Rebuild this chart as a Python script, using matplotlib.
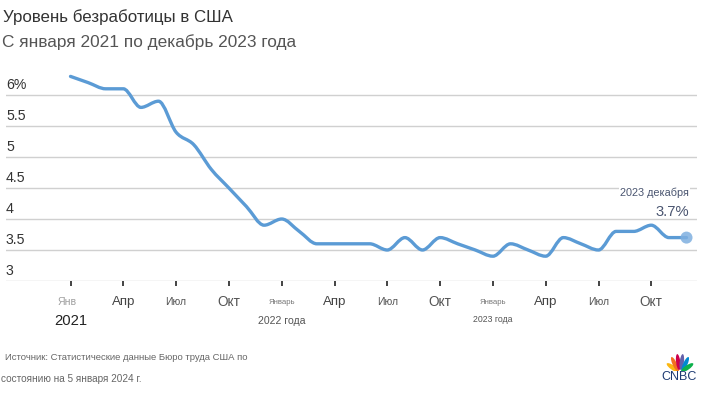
import numpy as np
import matplotlib
matplotlib.use("Agg")
import matplotlib.pyplot as plt
from matplotlib.path import Path
from matplotlib.patches import PathPatch, Ellipse

# ---------------- data ----------------
months = list(range(36))  # Jan 2021 .. Dec 2023
rate = [6.3, 6.2, 6.1, 6.1, 5.8, 5.9, 5.4, 5.2, 4.8, 4.5, 4.2, 3.9,
        4.0, 3.8, 3.6, 3.6, 3.6, 3.6, 3.5, 3.7, 3.5, 3.7, 3.6, 3.5,
        3.4, 3.6, 3.5, 3.4, 3.7, 3.6, 3.5, 3.8, 3.8, 3.9, 3.7, 3.7]
y_ticks = [3, 3.5, 4, 4.5, 5, 5.5, 6]
y_labels = ["3", "3.5", "4", "4.5", "5", "5.5", "6%"]
x_ticks = [0, 3, 6, 9, 12, 15, 18, 21, 24, 27, 30, 33]
x_labels = ["Янв", "Апр", "Июл", "Окт", "Январь", "Апр", "Июл", "Окт",
            "Январь", "Апр", "Июл", "Окт"]
year_pos = [0, 12, 24]
year_labels = ["2021", "2022 года", "2023 года"]
title = "Уровень безработицы в США"
subtitle = "С января 2021 по декабрь 2023 года"
source1 = "Источник: Статистические данные Бюро труда США по"
source2 = "состоянию на 5 января 2024 г."
last_label = "2023 декабря"
last_value = "3.7%"

W, H = 706, 394
fig = plt.figure(figsize=(W / 100, H / 100), dpi=100)
plt.rcParams['font.family'] = ['Liberation Sans', 'DejaVu Sans']

def fx(px):
    return px / W

def fy(py):
    return 1 - py / H

# axes geometry in pixels
ax_left, ax_right = 6, 697
ax_top, ax_bot = 70, 281
x0_px, px_per_m = 70.5, 17.6
y3_px, px_per_unit = 281, 62.0

ax = fig.add_axes([fx(ax_left), fy(ax_bot), (ax_right - ax_left) / W, (ax_bot - ax_top) / H])
ax.set_xlim((ax_left - x0_px) / px_per_m, (ax_right - x0_px) / px_per_m)
ax.set_ylim(3, 3 + (y3_px - ax_top) / px_per_unit)
ax.axis('off')

for yt in y_ticks:
    ax.axhline(yt, color='#d0d0d0', lw=1.0, zorder=1)

# monotone cubic (like d3 curveMonotoneX) as bezier path
def monotone_path(x, y):
    x = np.asarray(x, float)
    y = np.asarray(y, float)
    n = len(x)
    h = np.diff(x)
    d = np.diff(y) / h
    m = np.zeros(n)
    for i in range(1, n - 1):
        s0, s1 = d[i - 1], d[i]
        h0, h1 = h[i - 1], h[i]
        p = (s0 * h1 + s1 * h0) / (h0 + h1)
        m[i] = (np.sign(s0) + np.sign(s1)) * min(abs(s0), abs(s1), 0.5 * abs(p))
    m[0] = (3 * d[0] - m[1]) / 2
    m[-1] = (3 * d[-1] - m[-2]) / 2
    verts = [(x[0], y[0])]
    codes = [Path.MOVETO]
    for i in range(n - 1):
        hh = h[i]
        verts += [(x[i] + hh / 3, y[i] + m[i] * hh / 3),
                  (x[i + 1] - hh / 3, y[i + 1] - m[i + 1] * hh / 3),
                  (x[i + 1], y[i + 1])]
        codes += [Path.CURVE4] * 3
    return Path(verts, codes)

line_color = '#5b9bd5'
patch = PathPatch(monotone_path(months, rate), facecolor='none', edgecolor=line_color,
                  lw=2.4, capstyle='round', joinstyle='round', zorder=3)
ax.add_patch(patch)
ax.scatter([months[-1]], [rate[-1]], s=75, color='#7fb0e0', alpha=0.85, zorder=4,
           edgecolors='none')

# y labels
for yt, lab in zip(y_ticks, y_labels):
    py = y3_px - (yt - 3) * px_per_unit
    fig.text(fx(6), fy(py - 3), lab, fontsize=10.2, color='#333333', ha='left', va='bottom')

# x ticks
tick_styles = {
    "Янв": dict(fontsize=7.6, color='#a0a0a0'),
    "Апр": dict(fontsize=9.6, color='#444444'),
    "Июл": dict(fontsize=7.4, color='#555555'),
    "Окт": dict(fontsize=9.8, color='#555555'),
    "Январь": dict(fontsize=5.6, color='#777777'),
}
for m_, lab in zip(x_ticks, x_labels):
    px = x0_px + m_ * px_per_m
    ax.plot([m_, m_], [3, 3 - 5 / px_per_unit], color='#111111', lw=1.1,
            clip_on=False, zorder=2, solid_capstyle='butt')
    st = tick_styles[lab]
    fig.text(fx(px - (3 if lab == "Янв" else 0)), fy(302), lab, ha='center', va='center', **st)

year_styles = [dict(fontsize=10.6, color='#222222', family=['Liberation Sans']),
               dict(fontsize=7.6, color='#555555', family=['Liberation Sans Narrow', 'Liberation Sans']),
               dict(fontsize=6.3, color='#555555', family=['Liberation Sans Narrow', 'Liberation Sans'])]
year_y = [321, 321, 320]
for m_, lab, st, yy in zip(year_pos, year_labels, year_styles, year_y):
    px = x0_px + m_ * px_per_m
    fig.text(fx(px), fy(yy), lab, ha='center', va='center', **st)

# titles
fig.text(fx(3), fy(17.5), title, fontsize=12.2, color='#333333', ha='left', va='center')
fig.text(fx(2), fy(42), subtitle, fontsize=12.4, color='#555555', ha='left', va='center')

# annotation
fig.text(fx(689), fy(192.5), last_label, fontsize=7.8, color='#4a5570', ha='right', va='center',
         family=['Liberation Sans Narrow', 'Liberation Sans'],
         bbox=dict(facecolor='white', edgecolor='none', pad=0.5))
fig.text(fx(689), fy(211.5), last_value, fontsize=10.6, color='#4a5570', ha='right', va='center')

# source
fig.text(fx(5), fy(358), source1, fontsize=6.8, color='#666666', ha='left', va='center',
         family=['Liberation Sans Narrow', 'Liberation Sans'])
fig.text(fx(1), fy(379), source2, fontsize=7.2, color='#666666', ha='left', va='center')

# CNBC logo
logo_ax = fig.add_axes([fx(665), fy(371), 30 / W, 17 / H])
logo_ax.set_xlim(-1, 1)
logo_ax.set_ylim(0, 1)
logo_ax.axis('off')
feather_colors = ['#fcb711', '#f37021', '#cc004c', '#6460aa', '#0089d0', '#0db14b']
angles = [162, 134, 104, 76, 46, 18]
for c, a in zip(feather_colors, angles):
    r = np.deg2rad(a)
    cx, cy = 0.5 * np.cos(r), 0.04 + 0.5 * np.sin(r) * 1.0
    logo_ax.add_patch(Ellipse((cx, cy), 0.95, 0.28, angle=np.degrees(np.arctan2(np.sin(r), np.cos(r) * 0.55)),
                              color=c, lw=0))
fig.text(fx(679.5), fy(377), "CNBC", fontsize=9.0, color='#1f3c73', ha='center', va='center')

fig.savefig("out.png", dpi=100, facecolor='white')
